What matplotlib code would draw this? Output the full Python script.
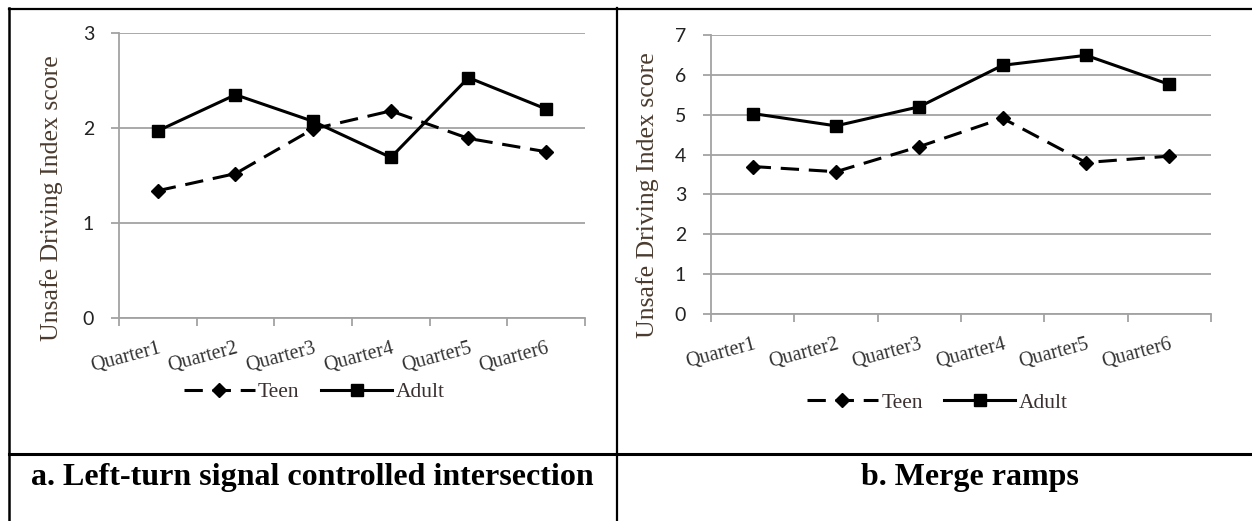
import matplotlib
matplotlib.use("Agg")
import matplotlib.pyplot as plt
from matplotlib.lines import Line2D
import numpy as np

# data
quarters = ["Quarter1", "Quarter2", "Quarter3", "Quarter4", "Quarter5", "Quarter6"]
teen_left = [1.34, 1.52, 1.99, 2.18, 1.89, 1.75]
adult_left = [1.97, 2.35, 2.07, 1.69, 2.53, 2.20]
teen_right = [3.70, 3.57, 4.20, 4.91, 3.80, 3.96]
adult_right = [5.03, 4.72, 5.20, 6.24, 6.49, 5.76]
captions = ["a. Left-turn signal controlled intersection", "b. Merge ramps"]

W, H = 1252, 521
fig = plt.figure(figsize=(W / 100, H / 100), dpi=100)

serif = "Liberation Serif"
grid_col = "#a2a2a2"
label_col = "#4a3b2e"


def px(x0, y0, x1, y1):
    # pixel box -> figure fraction rect
    return [x0 / W, 1 - y1 / H, (x1 - x0) / W, (y1 - y0) / H]


def panel(rect, teen, adult, ymax, legend_xy, ylab_xy):
    ax = fig.add_axes(rect)
    x = np.arange(len(quarters))
    ax.plot(x, teen, color="black", lw=2.2, dashes=(6, 3.2),
            marker="D", ms=7, label="Teen")
    ax.plot(x, adult, color="black", lw=2.2, marker="s", ms=8, label="Adult")
    ax.set_xlim(-0.5, len(quarters) - 0.5)
    ax.set_ylim(0, ymax)
    ax.set_yticks(range(ymax + 1))
    ax.yaxis.grid(True, color=grid_col, lw=1.3)
    ax.set_axisbelow(True)
    for s in ["top", "right"]:
        ax.spines[s].set_visible(False)
    for s in ["left", "bottom"]:
        ax.spines[s].set_color(grid_col)
        ax.spines[s].set_linewidth(1.3)
    ax.set_xticks(x)
    ax.set_xticks(np.arange(-0.5, len(quarters)), minor=True)
    ax.tick_params(axis="x", which="major", length=0, pad=15)
    ax.tick_params(axis="x", which="minor", length=6, width=1.3, color=grid_col)
    ax.tick_params(axis="y", length=6, width=1.3, color=grid_col, pad=12,
                   labelsize=14, labelcolor="#222222")
    for t in ax.get_yticklabels():
        t.set_fontfamily("Lato")
    ax.set_xticklabels(quarters, rotation=15, ha="right", va="top",
                       rotation_mode="anchor", fontfamily=serif, fontsize=14.5,
                       color="#333333")
    ax.set_ylabel("Unsafe Driving Index score", fontfamily=serif, fontsize=18.5,
                  color=label_col)
    ax.yaxis.set_label_coords(*ylab_xy)
    leg = ax.legend(loc="center", bbox_to_anchor=legend_xy,
                    bbox_transform=fig.transFigure, ncol=2, frameon=False,
                    handlelength=3.3, handletextpad=0.15, columnspacing=1.0,
                    prop={"family": serif, "size": 15.5})
    for t in leg.get_texts():
        t.set_color("#3a3030")
    return ax


ax1 = panel(px(119, 33, 585, 318), teen_left, adult_left, 3,
            (0.2508, 0.2476), (-0.120, 0.42))
ax2 = panel(px(711, 35, 1211, 314), teen_right, adult_right, 7,
            (0.7486, 0.2265), (-0.104, 0.427))

# table borders round the two panels
def hline(y, x0, x1, lw):
    fig.add_artist(Line2D([x0 / W, x1 / W], [1 - y / H, 1 - y / H],
                          color="black", lw=lw))


def vline(x, y0, y1, lw):
    fig.add_artist(Line2D([x / W, x / W], [1 - y0 / H, 1 - y1 / H],
                          color="black", lw=lw))


hline(8.5, 9, W, 1.6)
hline(454, 9, W, 2.2)
vline(9, 8, H, 1.8)
vline(617, 8, H, 1.6)

fig.text(312 / W, 1 - 478 / H, captions[0], ha="center", va="center",
         fontfamily=serif, fontweight="bold", fontsize=23)
fig.text(970 / W, 1 - 478 / H, captions[1], ha="center", va="center",
         fontfamily=serif, fontweight="bold", fontsize=23)

fig.savefig("out.png", dpi=100)
